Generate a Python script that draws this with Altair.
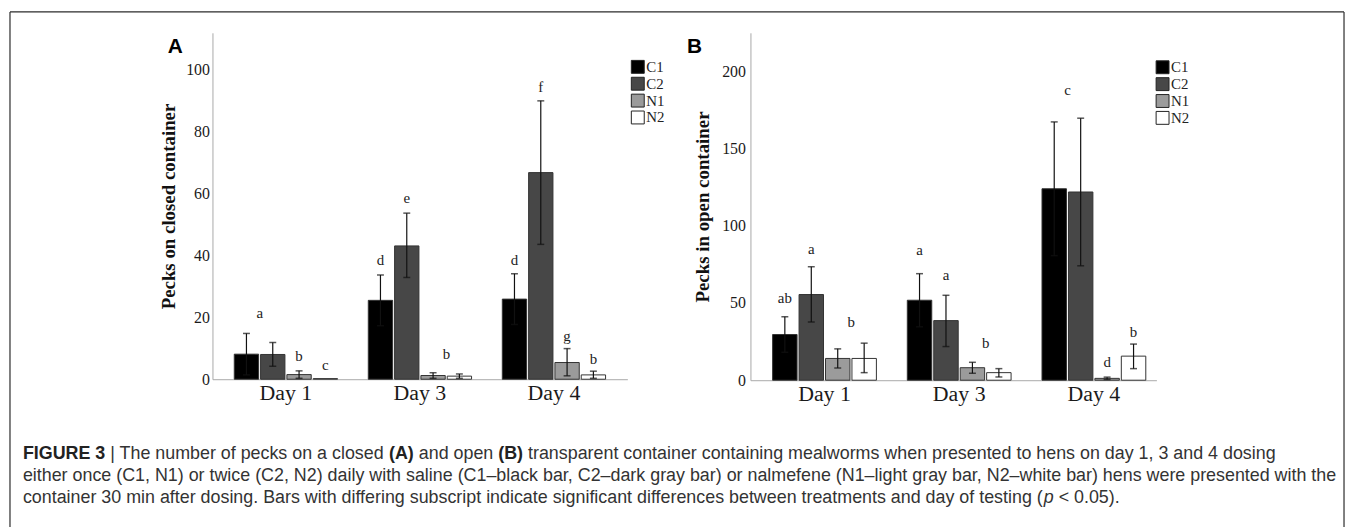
import altair as alt
import pandas as pd

SERIF = "Liberation Serif"
SANS = "Liberation Sans"

days = ["Day 1", "Day 3", "Day 4"]
groups = ["C1", "C2", "N1", "N2"]
colors = ["#000000", "#474747", "#9b9b9b", "#ffffff"]

bar_day = ["Day 1"] * 4 + ["Day 3"] * 4 + ["Day 4"] * 4
bar_group = groups * 3

# Panel A: pecks on closed container (mean, lower and upper error)
a_mean = [8.1, 8.0, 1.5, 0.2, 25.5, 43.1, 1.2, 1.0, 25.9, 66.8, 5.4, 1.4]
a_lo = [1.4, 4.2, 0.3, None, 17.3, 32.9, 0.3, 0.3, 17.7, 43.6, 1.1, 0.3]
a_hi = [14.8, 11.9, 2.7, None, 33.7, 53.7, 2.1, 1.7, 34.1, 90.0, 9.9, 2.6]

a_letter = ["a", "b", "c", "d", "e", "b", "d", "f", "g", "b"]
a_letter_day = ["Day 1", "Day 1", "Day 1", "Day 3", "Day 3", "Day 3", "Day 4", "Day 4", "Day 4", "Day 4"]
a_letter_bar = ["C1-C2", "N1", "N2", "C1", "C2", "N1-N2", "C1", "C2", "N1", "N2"]
a_letter_y = [21.5, 7.4, 4.5, 38.6, 58.7, 8.0, 38.6, 94.6, 14.1, 6.5]
a_ticks = [0, 20, 40, 60, 80, 100]

# Panel B: pecks in open container
b_mean = [29.6, 55.5, 14.1, 14.1, 51.8, 38.6, 8.1, 4.9, 124.0, 121.9, 1.2, 15.6]
b_lo = [18.1, 37.7, 7.9, 4.9, 34.6, 21.8, 4.5, 2.1, 80.7, 74.1, 0.5, 7.5]
b_hi = [41.1, 73.5, 20.3, 24.0, 69.0, 55.0, 11.6, 7.5, 167.3, 169.7, 2.0, 23.4]

b_letter = ["ab", "a", "b", "a", "a", "b", "c", "d", "b"]
b_letter_day = ["Day 1", "Day 1", "Day 1", "Day 3", "Day 3", "Day 3", "Day 4", "Day 4", "Day 4"]
b_letter_bar = ["C1", "C2", "N1-N2", "C1", "C2", "N1-N2", "C1-C2", "N1", "N2"]
b_letter_y = [53.3, 85.0, 37.9, 84.4, 67.9, 24.4, 187.7, 11.6, 31.5]
b_ticks = [0, 50, 100, 150, 200]

# Caption: each line is a list of (text, style) segments
caption = [
    [("FIGURE 3", "bold"), (" | The number of pecks on a closed ", "normal"), ("(A)", "bold"),
     (" and open ", "normal"), ("(B)", "bold"),
     (" transparent container containing mealworms when presented to hens on day 1, 3 and 4 dosing", "normal")],
    [("either once (C1, N1) or twice (C2, N2) daily with saline (C1\u2013black bar, C2\u2013dark gray bar) or nalmefene (N1\u2013light gray bar, N2\u2013white bar) hens were presented with the", "normal")],
    [("container 30 min after dosing. Bars with differing subscript indicate significant differences between treatments and day of testing (", "normal"),
     ("p", "italic"), (" < 0.05).", "normal")],
]

# Arial / Liberation Sans advance widths (per 1000 em) used to chain caption segments
_W = {" ": 278, "(": 333, ")": 333, ",": 278, ".": 278, "|": 260, "<": 584, "\u2013": 556,
      "a": 556, "b": 556, "c": 500, "d": 556, "e": 556, "f": 278, "g": 556, "h": 556,
      "i": 222, "j": 222, "k": 500, "l": 222, "m": 833, "n": 556, "o": 556, "p": 556,
      "q": 556, "r": 333, "s": 500, "t": 278, "u": 556, "v": 500, "w": 722, "x": 500,
      "y": 500, "z": 500, "A": 667, "B": 667, "C": 722, "E": 667, "F": 611, "G": 778,
      "I": 278, "N": 722, "R": 722, "T": 611, "U": 722}
_WB = {" ": 278, "(": 333, ")": 333, "A": 722, "B": 722, "C": 722, "E": 667, "F": 611,
       "G": 778, "I": 278, "R": 722, "U": 722}


def text_width(s, size, style):
    table = _WB if style == "bold" else _W
    return sum(table.get(ch, 556) for ch in s) * size / 1000.0


def bars_df(mean, lo, hi):
    return pd.DataFrame({"day": bar_day, "group": bar_group, "mean": mean, "lo": lo, "hi": hi})


def letters_df(letter, day, bar, y):
    df = pd.DataFrame({"letter": letter, "day": day, "bar": bar, "ly": y})
    df["group"] = df["bar"].str.split("-").str[0]
    df["between"] = df["bar"].str.contains("-")
    return df


def panel(df, ldf, tag, ytitle, ymax, yticks, width, height, xpad, label_pad,
          title_pad, legend_x, legend_y, tag_x):
    xscale = alt.Scale(domain=days, **xpad)
    xaxis = alt.Axis(title=None, labelAngle=0, ticks=False, domainColor="#a8a8a8",
                     labelFont=SERIF, labelFontSize=22, labelColor="#1a1a1a",
                     labelPadding=3)
    yscale = alt.Scale(domain=[0, ymax], nice=False, zero=True)
    yaxis = alt.Axis(values=yticks, ticks=False, grid=False, domainColor="#a8a8a8",
                     labelFont=SERIF, labelFontSize=16, labelColor="#1a1a1a",
                     labelPadding=label_pad, title=ytitle, titleFont=SERIF,
                     titleFontSize=19, titleFontWeight="bold", titleColor="#111111",
                     titlePadding=title_pad)
    xo = alt.XOffset("group:N", scale=alt.Scale(domain=groups, paddingInner=0.075,
                                                  paddingOuter=0.075))
    X = alt.X("day:N", scale=xscale, axis=xaxis)

    def Y(field):
        return alt.Y(field, scale=yscale, axis=yaxis)

    base = alt.Chart(df)
    bars = base.mark_bar(stroke="#333333", strokeWidth=1).encode(
        x=X, xOffset=xo, y=Y("mean:Q"),
        fill=alt.Fill("group:N", scale=alt.Scale(domain=groups, range=colors),
                      legend=alt.Legend(title=None, orient="none", legendX=legend_x,
                                        legendY=legend_y, symbolType="square",
                                        symbolSize=169, symbolStrokeColor="#222222",
                                        symbolStrokeWidth=1, labelFont=SERIF,
                                        labelFontSize=15, labelColor="#222222",
                                        labelOffset=1, rowPadding=0, padding=0)))
    rules = base.mark_rule(color="#111111", strokeWidth=1.2).encode(
        x=X, xOffset=xo, y=Y("lo:Q"), y2="hi:Q")
    cap_hi = base.mark_tick(orient="horizontal", size=7, thickness=1.5,
                            color="#111111").encode(x=X, xOffset=xo, y=Y("hi:Q"))
    cap_lo = base.mark_tick(orient="horizontal", size=7, thickness=1.5,
                            color="#111111").encode(x=X, xOffset=xo, y=Y("lo:Q"))

    lbase = alt.Chart(ldf)
    lt1 = lbase.transform_filter("!datum.between").mark_text(
        font=SERIF, fontSize=15, color="#222222", baseline="middle").encode(
        x=X, xOffset=xo, y=Y("ly:Q"), text="letter:N")
    lt2 = lbase.transform_filter("datum.between").mark_text(
        font=SERIF, fontSize=15, color="#222222", baseline="middle", dx=13.5).encode(
        x=X, xOffset=xo, y=Y("ly:Q"), text="letter:N")

    tag_chart = alt.Chart(pd.DataFrame({"t": [tag]})).mark_text(
        font=SANS, fontSize=21, fontWeight="bold", color="#000000", align="left",
        baseline="middle").encode(text="t:N", x=alt.value(tag_x), y=alt.value(14.5))

    return alt.layer(bars, rules, cap_hi, cap_lo, lt1, lt2, tag_chart).properties(
        width=width, height=height)


chartA = panel(bars_df(a_mean, a_lo, a_hi),
               letters_df(a_letter, a_letter_day, a_letter_bar, a_letter_y),
               "A", "Pecks on closed container", 112, a_ticks, 418, 349,
               dict(paddingInner=0.2, paddingOuter=0.148), 3, 7, 421, 26.8, -45)

chartB = panel(bars_df(b_mean, b_lo, b_hi),
               letters_df(b_letter, b_letter_day, b_letter_bar, b_letter_y),
               "B", "Pecks in open container", 225, b_ticks, 409, 350,
               dict(paddingInner=0.2, paddingOuter=0.107, align=0.7), 5, 9, 407.7, 27.2, -64)

FRAME_W = 1344
TOP = 21          # frame top line sits this far above the plot areas
PANEL_H = 350
FRAME_H = 530
LEFT_W, MID_W = 204, 124
RIGHT_W = FRAME_W - LEFT_W - 418 - MID_W - 409

one = pd.DataFrame({"s": [0]})
fr = alt.Chart(one)
frame_top = fr.mark_rule(color="#2b2b2b", strokeWidth=1.2).encode(
    x=alt.value(0), x2=alt.value(FRAME_W), y=alt.value(-TOP))
frame_left = fr.mark_rule(color="#2b2b2b", strokeWidth=1.2).encode(
    x=alt.value(0), y=alt.value(-TOP), y2=alt.value(FRAME_H - TOP))
frame_right = fr.mark_rule(color="#2b2b2b", strokeWidth=1.2).encode(
    x=alt.value(RIGHT_W), y=alt.value(-TOP), y2=alt.value(FRAME_H - TOP))

CAP_SIZE = 18
cap_y = [445 - TOP, 468 - TOP, 490 - TOP]
cap_layers = []
for line, yy in zip(caption, cap_y):
    xx = 13.0
    for seg, style in line:
        body = seg.strip()
        lead = seg[: len(seg) - len(seg.lstrip())]
        kw = dict(font=SANS, fontSize=CAP_SIZE, align="left", baseline="middle",
                  color="#222222" if style == "bold" else "#333333")
        if style == "bold":
            kw["fontWeight"] = "bold"
        if style == "italic":
            kw["fontStyle"] = "italic"
        x_draw = xx + text_width(lead, CAP_SIZE, "normal")
        cap_layers.append(alt.Chart(pd.DataFrame({"t": [body]})).mark_text(**kw).encode(
            text="t:N", x=alt.value(round(x_draw, 2)), y=alt.value(yy)))
        xx += text_width(seg, CAP_SIZE, style)

left_part = alt.layer(frame_top, frame_left, *cap_layers).properties(
    width=LEFT_W, height=PANEL_H)
right_part = alt.layer(frame_right).properties(width=RIGHT_W, height=PANEL_H)
mid_part = alt.Chart(pd.DataFrame({"s": [""]})).mark_text().encode(
    text="s:N", x=alt.value(1), y=alt.value(1)).properties(width=MID_W, height=PANEL_H)

chart = alt.hconcat(left_part, chartA, mid_part, chartB, right_part, spacing=0,
                    bounds="flush").resolve_scale(
    fill="independent", x="independent", y="independent", xOffset="independent"
).resolve_legend(fill="independent").properties(
    padding={"left": 0, "top": 0, "right": 0, "bottom": 0}
).configure(background="white", view=alt.ViewConfig(stroke="transparent"))

chart.save("out.html", embed_options={"renderer": "svg", "actions": False})
